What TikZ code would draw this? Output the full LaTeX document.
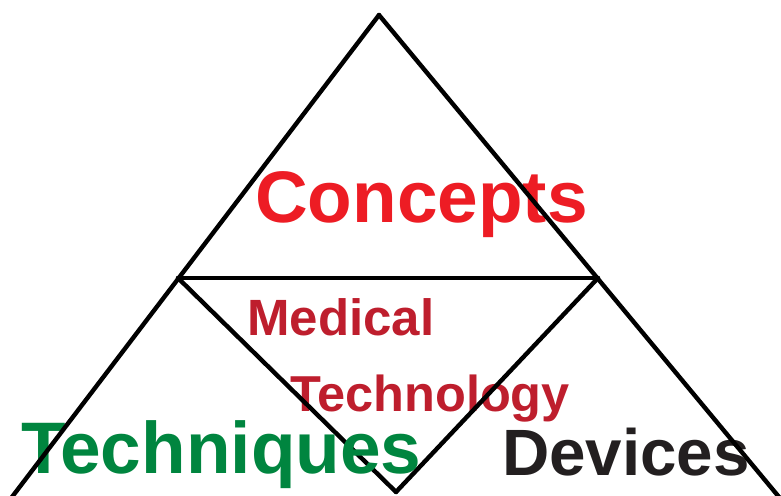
\documentclass[tikz,border=0pt]{standalone}
\usepackage{fontspec}
\setmainfont{Liberation Sans}
\usetikzlibrary{positioning}
\definecolor{conceptred}{RGB}{237,28,36}
\definecolor{medred}{RGB}{190,30,45}
\definecolor{techgreen}{RGB}{0,133,63}
\definecolor{devgray}{RGB}{35,31,32}
\tikzset{
edge/.style={line width=4.4pt, black, line cap=round, line join=miter},
word/.style={anchor=base west, inner sep=0pt, font=\bfseries},
}

\begin{document}
\begin{tikzpicture}
    [x=1pt,y=-1pt]
    \useasboundingbox (0,0) rectangle (781,495);

    \coordinate (top) at (379,15);
    \coordinate (ML) at (178,278);
    \coordinate (MR) at (598,278);
    \coordinate (BM) at (396,492);
    \coordinate (BL) at (12,497);
    \coordinate (BR) at (779,497);

    %middle text, under the inner lines
    \node[word,text=medred,font=\bfseries\fontsize{51}{51}\selectfont] (Med) at (247,335) {Medical};
    \node[word,text=medred,font=\bfseries\fontsize{50.5}{50.5}\selectfont] (Tech) at (290,411) {Technology};

    %inner triangle
    \draw[edge] (ML) -- (MR);
    \draw[edge] (ML) -- (BM);
    \draw[edge] (MR) -- (BM);

    \node[word,text=conceptred,font=\bfseries\fontsize{73}{73}\selectfont] (Con) at (255,222) {Concepts};
    \node[word,text=techgreen,font=\bfseries\fontsize{73}{73}\selectfont] (Tq) at (21,473) {Techniques};
    \node[word,text=devgray,font=\bfseries\fontsize{65.5}{65.5}\selectfont] (Dev) at (502,475) {Devices};

    %outer triangle
    \draw[edge] (top) -- (BL);
    \draw[edge] (top) -- (BR);

\end{tikzpicture}
\end{document}
